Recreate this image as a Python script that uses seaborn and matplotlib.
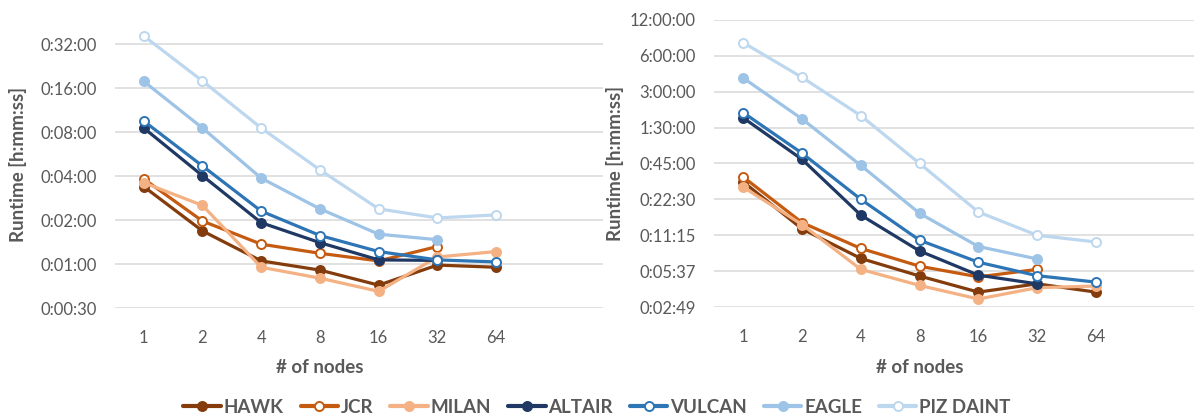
import numpy as np
import pandas as pd
import matplotlib
matplotlib.use("Agg")
import matplotlib.pyplot as plt
from matplotlib.ticker import FixedLocator, FixedFormatter, NullLocator
from matplotlib.lines import Line2D
import seaborn as sns

# ---- data (runtimes in seconds) ----
nodes = [1, 2, 4, 8, 16, 32, 64]
systems = ["HAWK", "JCR", "MILAN", "ALTAIR", "VULCAN", "EAGLE", "PIZ DAINT"]

left_hawk = [203, 101, 63, 54.5, 43, 59, 57]
left_jcr = [229, 118, 82, 71, 63, 79, np.nan]
left_milan = [216, 151, 57, 48, 39, 67, 73]
left_altair = [511, 241, 115, 84, 64, 63.5, np.nan]
left_vulcan = [570, 281, 138, 94, 73, 64, 62]
left_eagle = [1066, 511, 232, 143, 96, 88, np.nan]
left_pizdaint = [2178, 1072, 511, 264, 143, 124, 130]

right_hawk = [1887, 763, 431, 307, 225, 264, 225]
right_jcr = [2075, 861, 523, 371, 302, 349, np.nan]
right_milan = [1707, 829, 349, 256, 197, 245, 253]
right_altair = [6510, 2920, 995, 498, 312, 264, np.nan]
right_vulcan = [7200, 3290, 1350, 613, 401, 309, 273]
right_eagle = [14060, 6380, 2600, 1030, 543, 427, np.nan]
right_pizdaint = [27850, 14240, 6800, 2700, 1058, 675, 593]

left_ticks = [30, 60, 120, 240, 480, 960, 1920]
left_ticklabels = ["0:00:30", "0:01:00", "0:02:00", "0:04:00", "0:08:00", "0:16:00", "0:32:00"]
right_ticks = [168.75, 337.5, 675, 1350, 2700, 5400, 10800, 21600, 43200]
right_ticklabels = ["0:02:49", "0:05:37", "0:11:15", "0:22:30", "0:45:00",
                    "1:30:00", "3:00:00", "6:00:00", "12:00:00"]

# ---- styling ----
colors = {
    "HAWK": "#843C0C",
    "JCR": "#C55A11",
    "MILAN": "#F4B183",
    "ALTAIR": "#1F3864",
    "VULCAN": "#2E75B6",
    "EAGLE": "#9DC3E6",
    "PIZ DAINT": "#BDD7EE",
}
hollow = {"JCR", "VULCAN", "PIZ DAINT"}
text_color = "#595959"

sns.set_theme(style="white")
plt.rcParams["font.family"] = ["Lato", "DejaVu Sans"]

W, H = 1194, 419
fig = plt.figure(figsize=(W / 100, H / 100), dpi=100)


def px_axes(x0, y0, x1, y1):
    return fig.add_axes([x0 / W, 1 - y1 / H, (x1 - x0) / W, (y1 - y0) / H])


def build_frame(cols):
    frames = []
    for name, vals in zip(systems, cols):
        frames.append(pd.DataFrame({"pos": np.arange(len(nodes)),
                                    "runtime": vals, "system": name}))
    return pd.concat(frames, ignore_index=True).dropna()


left_df = build_frame([left_hawk, left_jcr, left_milan, left_altair,
                       left_vulcan, left_eagle, left_pizdaint])
right_df = build_frame([right_hawk, right_jcr, right_milan, right_altair,
                        right_vulcan, right_eagle, right_pizdaint])


def draw_panel(ax, df, ticks, ticklabels, ylim, xlim, xlabel_x, xlabel_y, ylabel_x):
    ax.set_yscale("log", base=2)
    for name in systems:
        sub = df[df["system"] == name]
        c = colors[name]
        sns.lineplot(data=sub, x="pos", y="runtime", ax=ax, color=c,
                     linewidth=2.3, marker="o", markersize=6.5,
                     markerfacecolor="white" if name in hollow else c,
                     markeredgecolor=c, markeredgewidth=1.4,
                     legend=False, clip_on=False, zorder=3)
    ax.set_ylim(*ylim)
    ax.set_xlim(*xlim)
    ax.yaxis.set_major_locator(FixedLocator(ticks))
    ax.yaxis.set_major_formatter(FixedFormatter(ticklabels))
    ax.yaxis.set_minor_locator(NullLocator())
    ax.set_xticks(range(len(nodes)))
    ax.set_xticklabels([str(n) for n in nodes])
    ax.grid(axis="y", color="#D9D9D9", linewidth=1.1)
    ax.grid(axis="x", visible=False)
    for s in ax.spines.values():
        s.set_visible(False)
    ax.tick_params(axis="y", length=0, pad=13, labelsize=12, labelcolor=text_color)
    ax.tick_params(axis="x", length=0, pad=16, labelsize=12, labelcolor=text_color)
    ax.set_xlabel("# of nodes", fontsize=13.5, fontweight="bold", color=text_color)
    ax.set_ylabel("Runtime [h:mm:ss]", fontsize=13.5, fontweight="bold", color=text_color)
    ax.xaxis.set_label_coords(xlabel_x, xlabel_y)
    ax.yaxis.set_label_coords(ylabel_x, 0.5)


# left panel: 44 px per doubling, 0:00:30 gridline at y=308
axL = px_axes(115, 20, 603, 308)
draw_panel(axL, left_df, left_ticks, left_ticklabels,
           (30, 30 * 2 ** (288 / 44)), (-0.49, 7.82),
           (320 - 115) / 488, (308 - 359) / 288, (27 - 115) / 488)

# right panel: 0:02:49 .. 12:00:00
axR = px_axes(714, 20, 1194, 307)
draw_panel(axR, right_df, right_ticks, right_ticklabels,
           (168.75, 43200), (-0.5, 7.67),
           (920 - 714) / 480, (307 - 359) / 287, (624 - 714) / 480)

# shared legend along the bottom
handles = [Line2D([0], [0], color=colors[n], linewidth=3, marker="o", markersize=6.5,
                  markerfacecolor="white" if n in hollow else colors[n],
                  markeredgecolor=colors[n], markeredgewidth=1.4)
           for n in systems]
leg = fig.legend(handles, systems, loc="center", bbox_to_anchor=(0.5, 1 - 407 / H),
                 ncol=7, frameon=False, handlelength=2.0, handletextpad=0.15,
                 columnspacing=0.9, prop={"family": ["Lato", "DejaVu Sans"],
                                          "weight": "bold", "size": 13.5})
for t in leg.get_texts():
    t.set_color(text_color)

fig.savefig("out.png", dpi=100)
